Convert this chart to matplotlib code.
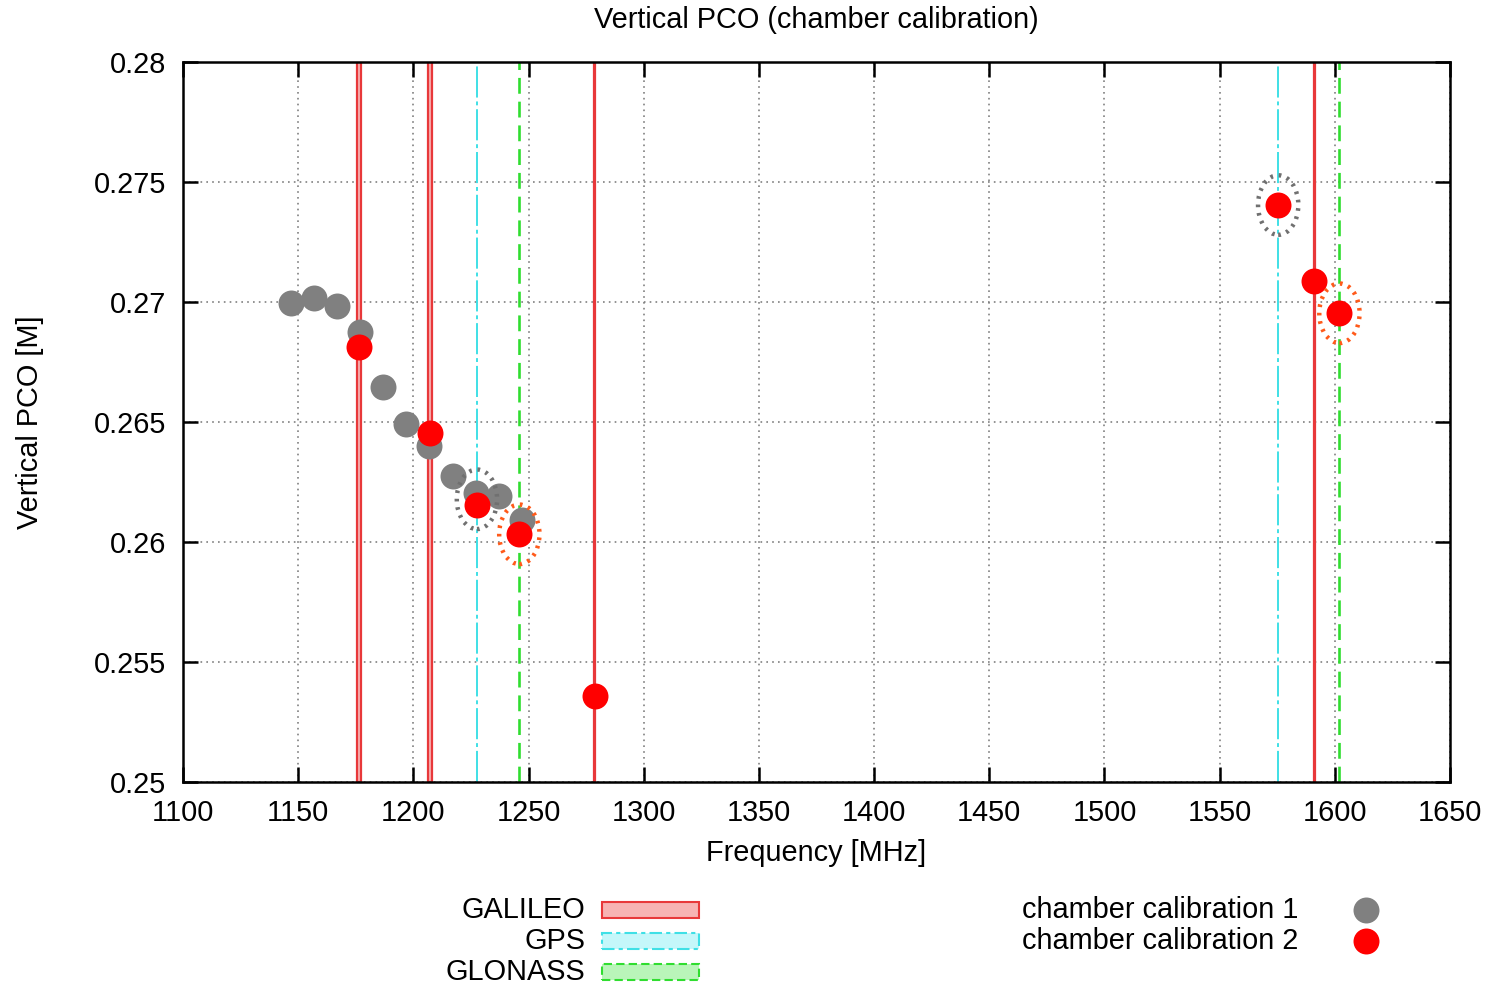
import matplotlib
matplotlib.use("Agg")
import matplotlib.pyplot as plt
from matplotlib.patches import Ellipse, Rectangle
from matplotlib.lines import Line2D

plt.rcParams['font.family'] = ['Liberation Sans', 'DejaVu Sans']

# Signal carrier frequencies [MHz]
galileo_freq = [1176.45, 1207.14, 1278.75, 1591.0]
gps_freq = [1227.60, 1575.42]
glonass_freq = [1246.0, 1602.0]

# Chamber calibration 1 (sweep in 10 MHz steps)
cal1_freq = [1147, 1157, 1167, 1177, 1187, 1197, 1207, 1217, 1227, 1237, 1247]
cal1_pco = [0.26995, 0.27015, 0.26983, 0.26874, 0.26647, 0.26490,
            0.26401, 0.26276, 0.26203, 0.26192, 0.26092]

# Chamber calibration 2 (at signal frequencies)
cal2_freq = [1176.45, 1207.14, 1227.60, 1246.0, 1278.75, 1575.42, 1591.0, 1602.0]
cal2_pco = [0.26814, 0.26453, 0.26153, 0.26032, 0.25358, 0.27404, 0.27089, 0.26953]

x_ticks = [1100, 1150, 1200, 1250, 1300, 1350, 1400, 1450, 1500, 1550, 1600, 1650]
y_ticks = [0.25, 0.255, 0.26, 0.265, 0.27, 0.275, 0.28]
y_tick_labels = ['0.25', '0.255', '0.26', '0.265', '0.27', '0.275', '0.28']

W, H = 1493, 985
DPI = 100
fig = plt.figure(figsize=(W / DPI, H / DPI), dpi=DPI)

def fx(px):
    return px / W

def fy(py):
    return 1 - py / H

ax = fig.add_axes([fx(183), fy(782), fx(1450) - fx(183), fy(62) - fy(782)])

FS = 20.8
GRAY = '#808080'
RED = '#ff0000'
GAL_EDGE = '#e8383a'
GAL_FACE = '#f7b3b3'
GPS_COL = '#3fe0e6'
GLO_COL = '#30dd30'
ORANGE = '#ff5a1a'

# Galileo bands (wider band for E5a / E5b)
for i, f in enumerate(galileo_freq):
    hw = 0.8 if i < 2 else 0.25
    ax.axvspan(f - hw, f + hw, facecolor=GAL_FACE, edgecolor=GAL_EDGE,
               lw=1.6, zorder=2)

for f in gps_freq:
    ax.axvline(f, color=GPS_COL, lw=1.4, linestyle=(0, (16, 2, 2, 2)), zorder=2)

for f in glonass_freq:
    ax.axvline(f, color=GLO_COL, lw=1.9, linestyle=(0, (6, 3)), zorder=2)

ms = 18.7
ax.plot(cal1_freq, cal1_pco, 'o', color=GRAY, ms=ms, mec='none', zorder=4)
ax.plot(cal2_freq, cal2_pco, 'o', color=RED, ms=ms, mec='none', zorder=5)

# Dotted rings: grey around GPS points, orange around GLONASS points
ew, eh = 17.5, 0.00248
def ring(f, v, color):
    ax.add_patch(Ellipse((f, v), ew, eh, fill=False, edgecolor=color,
                         lw=3.2, linestyle=(0, (0.6, 1.3)), zorder=6))

pairs = dict(zip(cal1_freq, cal1_pco))
for f, v in zip(cal2_freq, cal2_pco):
    near = [p for q, p in pairs.items() if abs(q - f) < 1.0]
    centre = (v + near[0]) / 2 if near else v
    if f in gps_freq:
        ring(f, centre, '#707070')
    elif f in glonass_freq:
        ring(f, centre, ORANGE)

ax.set_xlim(1100, 1650)
ax.set_ylim(0.25, 0.28)
ax.set_xticks(x_ticks)
ax.set_xticklabels([str(t) for t in x_ticks])
ax.set_yticks(y_ticks)
ax.set_yticklabels(y_tick_labels)
ax.grid(True, color=GRAY, lw=1.2, linestyle=(0, (1, 2.5)), zorder=1)
ax.set_axisbelow(True)
ax.tick_params(direction='in', length=11, width=1.8, top=True, right=True,
               labelsize=FS, pad=12, colors='black')
for s in ax.spines.values():
    s.set_linewidth(1.8)
    s.set_zorder(7)

fig.text(fx(816.5), fy(20), 'Vertical PCO (chamber calibration)', ha='center',
         va='center', fontsize=FS)
fig.text(fx(816.5), fy(853), 'Frequency [MHz]', ha='center', va='center',
         fontsize=FS)
fig.text(fx(30), fy(422), 'Vertical PCO [M]', ha='center', va='center',
         rotation=90, fontsize=FS)

# Legend: signal systems
leg_rows = [910, 941, 972]
leg_names = ['GALILEO', 'GPS', 'GLONASS']
leg_styles = [
    dict(facecolor=GAL_FACE, edgecolor=GAL_EDGE, linestyle='-'),
    dict(facecolor='#c5f7fa', edgecolor=GPS_COL, linestyle=(0, (6, 2, 2, 2))),
    dict(facecolor='#b9f5b9', edgecolor=GLO_COL, linestyle=(0, (4, 2))),
]
for name, row, st in zip(leg_names, leg_rows, leg_styles):
    fig.text(fx(585), fy(row), name, ha='right', va='center', fontsize=FS)
    fig.add_artist(Rectangle((fx(602), fy(row + 8)), fx(699) - fx(602),
                             fy(row - 8) - fy(row + 8), transform=fig.transFigure,
                             lw=1.5, **st))

# Legend: calibrations
for name, row, col in zip(['chamber calibration 1', 'chamber calibration 2'],
                          leg_rows[:2], [GRAY, RED]):
    fig.text(fx(1022), fy(row), name, ha='left', va='center', fontsize=FS)
    fig.add_artist(Line2D([fx(1366)], [fy(row)], marker='o', ms=ms, color=col,
                          mec='none', transform=fig.transFigure))

fig.savefig('out.png', dpi=DPI)
